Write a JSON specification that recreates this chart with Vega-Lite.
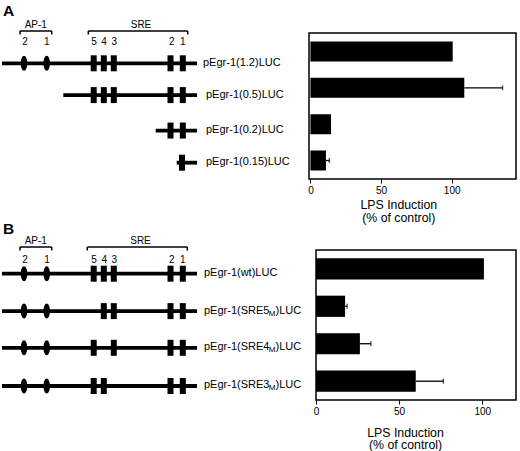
{
  "$schema": "https://vega.github.io/schema/vega-lite/v6.json",
  "padding": {"left": 0, "top": 4, "right": 0, "bottom": 0},
  "config": {"view": {"stroke": null}, "font": "Liberation Sans"},
  "datasets": {
    "diagA": [
      {"kind": "letter", "x": 3, "y": -0.784, "t": "A"},
      {"kind": "head", "x": 35.8, "y": -0.056, "t": "AP-1"},
      {"kind": "head", "x": 141, "y": -0.056, "t": "SRE"},
      {"kind": "bracket", "x": 20, "x2": 51.7, "y": 0.025},
      {"kind": "bracket", "x": 88.3, "x2": 187.7, "y": 0.025},
      {"kind": "bend", "x": 20, "y": 0.025, "y2": 0.131},
      {"kind": "bend", "x": 51.7, "y": 0.025, "y2": 0.131},
      {"kind": "bend", "x": 88.3, "y": 0.025, "y2": 0.131},
      {"kind": "bend", "x": 187.7, "y": 0.025, "y2": 0.131},
      {"kind": "num", "x": 25, "y": 0.448, "t": "2"},
      {"kind": "num", "x": 46.7, "y": 0.448, "t": "1"},
      {"kind": "num", "x": 94, "y": 0.448, "t": "5"},
      {"kind": "num", "x": 104, "y": 0.448, "t": "4"},
      {"kind": "num", "x": 114.3, "y": 0.448, "t": "3"},
      {"kind": "num", "x": 171.7, "y": 0.448, "t": "2"},
      {"kind": "num", "x": 182.7, "y": 0.448, "t": "1"},
      {"kind": "line", "x": 2, "x2": 197, "y": 1},
      {"kind": "line", "x": 63.3, "x2": 197, "y": 1.96},
      {"kind": "line", "x": 155.7, "x2": 197, "y": 3.03},
      {"kind": "line", "x": 176.7, "x2": 197, "y": 4},
      {"kind": "ap1", "x": 24, "y": 1},
      {"kind": "ap1", "x": 46.7, "y": 1},
      {"kind": "sre", "x": 93.7, "y": 1},
      {"kind": "sre", "x": 103.8, "y": 1},
      {"kind": "sre", "x": 113.8, "y": 1},
      {"kind": "sre", "x": 170.5, "y": 1},
      {"kind": "sre", "x": 182.8, "y": 1},
      {"kind": "sre", "x": 93.7, "y": 1.96},
      {"kind": "sre", "x": 103.8, "y": 1.96},
      {"kind": "sre", "x": 113.8, "y": 1.96},
      {"kind": "sre", "x": 170.5, "y": 1.96},
      {"kind": "sre", "x": 182.8, "y": 1.96},
      {"kind": "sre", "x": 170.5, "y": 3.03},
      {"kind": "sre", "x": 182.8, "y": 3.03},
      {"kind": "sre", "x": 182, "y": 4},
      {"kind": "label", "x": 203, "y": 1, "t": "pEgr-1(1.2)LUC", "sub": "", "post": ""},
      {"kind": "label", "x": 206, "y": 1.96, "t": "pEgr-1(0.5)LUC", "sub": "", "post": ""},
      {"kind": "label", "x": 206, "y": 3.03, "t": "pEgr-1(0.2)LUC", "sub": "", "post": ""},
      {"kind": "label", "x": 206, "y": 4, "t": "pEgr-1(0.15)LUC", "sub": "", "post": ""}
    ],
    "diagB": [
      {"kind": "letter", "x": 3, "y": -0.381, "t": "B"},
      {"kind": "head", "x": 35.8, "y": 0.215, "t": "AP-1"},
      {"kind": "head", "x": 140.5, "y": 0.215, "t": "SRE"},
      {"kind": "bracket", "x": 20, "x2": 51.7, "y": 0.287},
      {"kind": "bracket", "x": 87.3, "x2": 187.3, "y": 0.287},
      {"kind": "bend", "x": 20, "y": 0.287, "y2": 0.38},
      {"kind": "bend", "x": 51.7, "y": 0.287, "y2": 0.38},
      {"kind": "bend", "x": 87.3, "y": 0.287, "y2": 0.38},
      {"kind": "bend", "x": 187.3, "y": 0.287, "y2": 0.38},
      {"kind": "num", "x": 25, "y": 0.706, "t": "2"},
      {"kind": "num", "x": 47, "y": 0.706, "t": "1"},
      {"kind": "num", "x": 94, "y": 0.706, "t": "5"},
      {"kind": "num", "x": 104.3, "y": 0.706, "t": "4"},
      {"kind": "num", "x": 114.3, "y": 0.706, "t": "3"},
      {"kind": "num", "x": 171.7, "y": 0.706, "t": "2"},
      {"kind": "num", "x": 182.7, "y": 0.706, "t": "1"},
      {"kind": "line", "x": 2, "x2": 197, "y": 1},
      {"kind": "line", "x": 2, "x2": 197, "y": 2},
      {"kind": "line", "x": 2, "x2": 197, "y": 2.98},
      {"kind": "line", "x": 2, "x2": 197, "y": 4},
      {"kind": "ap1", "x": 24, "y": 1},
      {"kind": "ap1", "x": 46.7, "y": 1},
      {"kind": "ap1", "x": 24, "y": 2},
      {"kind": "ap1", "x": 46.7, "y": 2},
      {"kind": "ap1", "x": 24, "y": 2.98},
      {"kind": "ap1", "x": 46.7, "y": 2.98},
      {"kind": "ap1", "x": 24, "y": 4},
      {"kind": "ap1", "x": 46.7, "y": 4},
      {"kind": "sre", "x": 93.7, "y": 1},
      {"kind": "sre", "x": 103.8, "y": 1},
      {"kind": "sre", "x": 113.8, "y": 1},
      {"kind": "sre", "x": 170.5, "y": 1},
      {"kind": "sre", "x": 182.8, "y": 1},
      {"kind": "sre", "x": 103.8, "y": 2},
      {"kind": "sre", "x": 113.8, "y": 2},
      {"kind": "sre", "x": 170.5, "y": 2},
      {"kind": "sre", "x": 182.8, "y": 2},
      {"kind": "sre", "x": 93.7, "y": 2.98},
      {"kind": "sre", "x": 113.8, "y": 2.98},
      {"kind": "sre", "x": 170.5, "y": 2.98},
      {"kind": "sre", "x": 182.8, "y": 2.98},
      {"kind": "sre", "x": 93.7, "y": 4},
      {"kind": "sre", "x": 103.8, "y": 4},
      {"kind": "sre", "x": 170.5, "y": 4},
      {"kind": "sre", "x": 182.8, "y": 4},
      {"kind": "label", "x": 204, "y": 1, "t": "pEgr-1(wt)LUC", "sub": "", "post": ""},
      {"kind": "label", "x": 204, "y": 2, "t": "pEgr-1(SRE5", "sub": "M", "post": ")LUC"},
      {"kind": "label", "x": 204, "y": 2.98, "t": "pEgr-1(SRE4", "sub": "M", "post": ")LUC"},
      {"kind": "label", "x": 204, "y": 4, "t": "pEgr-1(SRE3", "sub": "M", "post": ")LUC"}
    ],
    "barsA": [
      {"c": "pEgr-1(1.2)LUC", "v": 100.7, "hi": null},
      {"c": "pEgr-1(0.5)LUC", "v": 108.9, "hi": 136},
      {"c": "pEgr-1(0.2)LUC", "v": 14.6, "hi": null},
      {"c": "pEgr-1(0.15)LUC", "v": 11, "hi": 13.4}
    ],
    "barsB": [
      {"c": "pEgr-1(wt)LUC", "v": 101, "hi": null},
      {"c": "pEgr-1(SRE5M)LUC", "v": 17.5, "hi": 18.7},
      {"c": "pEgr-1(SRE4M)LUC", "v": 26.4, "hi": 33},
      {"c": "pEgr-1(SRE3M)LUC", "v": 60, "hi": 76.6}
    ]
  },
  "bounds": "full",
  "spacing": -3,
  "vconcat": [
    {
      "bounds": "flush",
      "spacing": 9,
      "hconcat": [
        {
          "width": 300, "height": 146,
          "data": {"name": "diagA"},
          "encoding": {
            "x": {"field": "x", "type": "quantitative", "axis": null, "scale": {"domain": [0, 300], "nice": false, "zero": false}},
            "y": {"field": "y", "type": "quantitative", "axis": null, "scale": {"domain": [0.0854, 4.4924], "reverse": true, "nice": false, "zero": false}}
          },
          "layer": [
            {"transform": [{"filter": "datum.kind == 'line'"}], "mark": {"type": "rule", "color": "black", "strokeWidth": 3.8}, "encoding": {"x2": {"field": "x2"}}},
            {"transform": [{"filter": "datum.kind == 'bracket'"}], "mark": {"type": "rule", "color": "black", "strokeWidth": 1.5}, "encoding": {"x2": {"field": "x2"}}},
            {"transform": [{"filter": "datum.kind == 'bend'"}], "mark": {"type": "rule", "color": "black", "strokeWidth": 1.5}, "encoding": {"y2": {"field": "y2"}}},
            {"transform": [{"filter": "datum.kind == 'ap1'"}], "mark": {"type": "point", "filled": true, "color": "black", "opacity": 1, "size": 225, "shape": "M0,-1C0.2375,-1 0.43,-0.5523 0.43,0C0.43,0.5523 0.2375,1 0,1C-0.2375,1 -0.43,0.5523 -0.43,0C-0.43,-0.5523 -0.2375,-1 0,-1Z"}},
            {"transform": [{"filter": "datum.kind == 'sre'"}], "mark": {"type": "point", "filled": true, "color": "black", "opacity": 1, "size": 256, "shape": "M-0.375,-1L0.375,-1L0.375,1L-0.375,1Z"}},
            {"transform": [{"filter": "datum.kind == 'letter'"}], "mark": {"type": "text", "fontSize": 15.5, "fontWeight": "bold", "align": "left", "baseline": "top", "color": "black"}, "encoding": {"text": {"field": "t"}}},
            {"transform": [{"filter": "datum.kind == 'head'"}], "mark": {"type": "text", "fontSize": 10, "align": "center", "baseline": "alphabetic", "color": "black"}, "encoding": {"text": {"field": "t"}}},
            {"transform": [{"filter": "datum.kind == 'num'"}], "mark": {"type": "text", "fontSize": 10, "align": "center", "baseline": "alphabetic", "color": "black"}, "encoding": {"text": {"field": "t"}}},
            {"transform": [{"filter": "datum.kind == 'label'"}], "mark": {"type": "text", "fontSize": 11, "align": "left", "baseline": "middle", "dy": -0.5, "color": "black"}, "encoding": {"text": {"field": "t"}}}
          ]
        },
        {
          "width": 207, "height": 146,
          "view": {"stroke": "black", "strokeWidth": 1.5},
          "data": {"name": "barsA"},
          "encoding": {
            "y": {"field": "c", "type": "nominal", "sort": null, "axis": null, "scale": {"paddingInner": 0.45, "paddingOuter": 0.234}}
          },
          "layer": [
            {"mark": {"type": "bar", "color": "black"},
             "encoding": {"x": {"field": "v", "type": "quantitative", "scale": {"domain": [-1, 145.5], "nice": false, "zero": false},
               "axis": {"values": [0, 50, 100], "title": ["LPS Induction", "(% of control)"], "domain": false, "grid": false, "tickColor": "black", "tickSize": 4, "tickWidth": 1, "labelFontSize": 10, "labelColor": "black", "labelPadding": 2, "labelFlush": false, "titleFontSize": 12.3, "titleFontWeight": "normal", "titleColor": "black", "titleX": 89.3, "titleY": 29, "titleAlign": "center", "titleBaseline": "alphabetic", "titleLineHeight": 13.5}}}},
            {"transform": [{"filter": "datum.hi != null"}], "mark": {"type": "rule", "color": "black", "strokeWidth": 1.3},
             "encoding": {"x": {"field": "v", "type": "quantitative"}, "x2": {"field": "hi"}}},
            {"transform": [{"filter": "datum.hi != null"}], "mark": {"type": "tick", "color": "black", "thickness": 1.3, "size": 5, "orient": "vertical"},
             "encoding": {"x": {"field": "hi", "type": "quantitative"}}}
          ]
        }
      ]
    },
    {
      "bounds": "flush",
      "spacing": 16,
      "hconcat": [
        {
          "width": 300, "height": 150,
          "data": {"name": "diagB"},
          "encoding": {
            "x": {"field": "x", "type": "quantitative", "axis": null, "scale": {"domain": [0, 300], "nice": false, "zero": false}},
            "y": {"field": "y", "type": "quantitative", "axis": null, "scale": {"domain": [0.367, 4.3745], "reverse": true, "nice": false, "zero": false}}
          },
          "layer": [
            {"transform": [{"filter": "datum.kind == 'line'"}], "mark": {"type": "rule", "color": "black", "strokeWidth": 3.8}, "encoding": {"x2": {"field": "x2"}}},
            {"transform": [{"filter": "datum.kind == 'bracket'"}], "mark": {"type": "rule", "color": "black", "strokeWidth": 1.5}, "encoding": {"x2": {"field": "x2"}}},
            {"transform": [{"filter": "datum.kind == 'bend'"}], "mark": {"type": "rule", "color": "black", "strokeWidth": 1.5}, "encoding": {"y2": {"field": "y2"}}},
            {"transform": [{"filter": "datum.kind == 'ap1'"}], "mark": {"type": "point", "filled": true, "color": "black", "opacity": 1, "size": 225, "shape": "M0,-1C0.2375,-1 0.43,-0.5523 0.43,0C0.43,0.5523 0.2375,1 0,1C-0.2375,1 -0.43,0.5523 -0.43,0C-0.43,-0.5523 -0.2375,-1 0,-1Z"}},
            {"transform": [{"filter": "datum.kind == 'sre'"}], "mark": {"type": "point", "filled": true, "color": "black", "opacity": 1, "size": 256, "shape": "M-0.375,-1L0.375,-1L0.375,1L-0.375,1Z"}},
            {"transform": [{"filter": "datum.kind == 'letter'"}], "mark": {"type": "text", "fontSize": 15.5, "fontWeight": "bold", "align": "left", "baseline": "top", "color": "black"}, "encoding": {"text": {"field": "t"}}},
            {"transform": [{"filter": "datum.kind == 'head'"}], "mark": {"type": "text", "fontSize": 10, "align": "center", "baseline": "alphabetic", "color": "black"}, "encoding": {"text": {"field": "t"}}},
            {"transform": [{"filter": "datum.kind == 'num'"}], "mark": {"type": "text", "fontSize": 10, "align": "center", "baseline": "alphabetic", "color": "black"}, "encoding": {"text": {"field": "t"}}},
            {"transform": [{"filter": "datum.kind == 'label'"}], "mark": {"type": "text", "fontSize": 11, "align": "left", "baseline": "middle", "dy": -0.5, "color": "black"}, "encoding": {"text": {"field": "t"}}},
            {"transform": [{"filter": "datum.kind == 'label'"}], "mark": {"type": "text", "fontSize": 8, "align": "left", "baseline": "middle", "dx": 64.7, "dy": 2.5, "color": "black"}, "encoding": {"text": {"field": "sub"}}},
            {"transform": [{"filter": "datum.kind == 'label'"}], "mark": {"type": "text", "fontSize": 11, "align": "left", "baseline": "middle", "dx": 71.5, "dy": -0.5, "color": "black"}, "encoding": {"text": {"field": "post"}}}
          ]
        },
        {
          "width": 200, "height": 150,
          "view": {"stroke": "black", "strokeWidth": 1.5},
          "data": {"name": "barsB"},
          "encoding": {
            "y": {"field": "c", "type": "nominal", "sort": null, "axis": null, "scale": {"paddingInner": 0.434, "paddingOuter": 0.219}}
          },
          "layer": [
            {"mark": {"type": "bar", "color": "black"},
             "encoding": {"x": {"field": "v", "type": "quantitative", "scale": {"domain": [0, 120.3], "nice": false, "zero": false},
               "axis": {"values": [0, 50, 100], "title": ["LPS Induction", "(% of control)"], "domain": false, "grid": false, "tickColor": "black", "tickSize": 4, "tickWidth": 1, "labelFontSize": 10, "labelColor": "black", "labelPadding": 2, "labelFlush": false, "titleFontSize": 12.3, "titleFontWeight": "normal", "titleColor": "black", "titleX": 89, "titleY": 36, "titleAlign": "center", "titleBaseline": "alphabetic", "titleLineHeight": 12.8}}}},
            {"transform": [{"filter": "datum.hi != null"}], "mark": {"type": "rule", "color": "black", "strokeWidth": 1.3},
             "encoding": {"x": {"field": "v", "type": "quantitative"}, "x2": {"field": "hi"}}},
            {"transform": [{"filter": "datum.hi != null"}], "mark": {"type": "tick", "color": "black", "thickness": 1.3, "size": 5, "orient": "vertical"},
             "encoding": {"x": {"field": "hi", "type": "quantitative"}}}
          ]
        }
      ]
    }
  ]
}
